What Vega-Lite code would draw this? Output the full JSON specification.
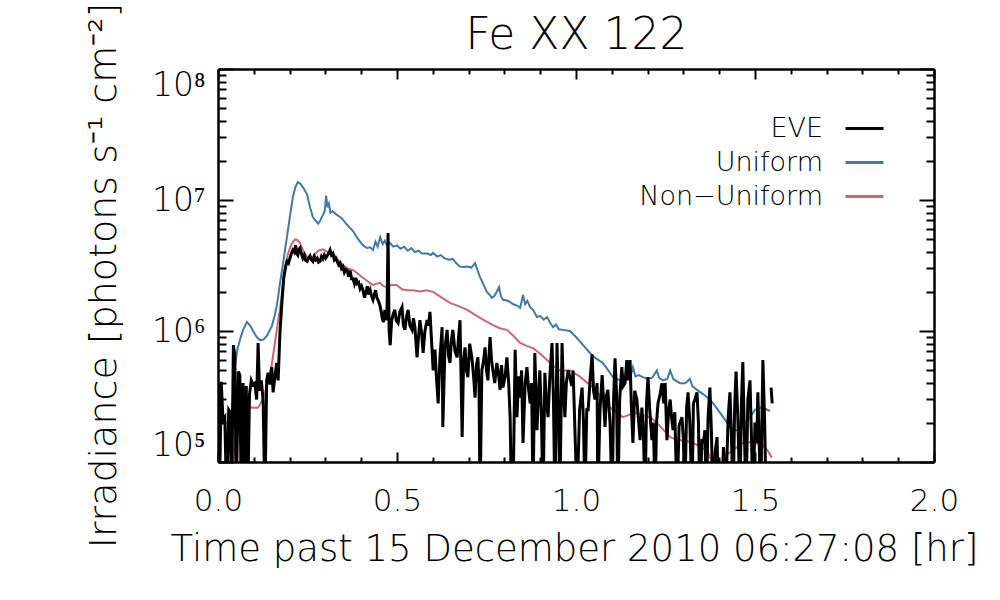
{
"$schema": "https://vega.github.io/schema/vega-lite/v6.json",
"autosize": {"type": "none"},
"padding": {"left": 218, "top": 69, "right": 66, "bottom": 138},
"width": 716,
"height": 393,
"background": "white",
"config": {
  "view": {"stroke": null},
  "font": "DejaVu Sans",
  "axis": {"domainColor": "black", "domainWidth": 2.5, "tickColor": "black", "tickWidth": 2, "labelColor": "black", "titleColor": "black", "grid": false, "labelFont": "DejaVu Sans", "titleFont": "DejaVu Sans", "labelFontWeight": 200, "titleFontWeight": 200}
},
"data": {"values": [
{"series":"Uniform","t":0.020,"irr":60000},{"series":"Uniform","t":0.025,"irr":100000},{"series":"Uniform","t":0.032,"irr":170000},{"series":"Uniform","t":0.039,"irr":250000},{"series":"Uniform","t":0.047,"irr":530000},{"series":"Uniform","t":0.054,"irr":720000},{"series":"Uniform","t":0.061,"irr":850000},{"series":"Uniform","t":0.070,"irr":1020000},{"series":"Uniform","t":0.081,"irr":1170000},{"series":"Uniform","t":0.090,"irr":1100000},{"series":"Uniform","t":0.098,"irr":1000000},{"series":"Uniform","t":0.108,"irr":900000},{"series":"Uniform","t":0.117,"irr":850000},{"series":"Uniform","t":0.127,"irr":860000},{"series":"Uniform","t":0.137,"irr":920000},{"series":"Uniform","t":0.145,"irr":1020000},{"series":"Uniform","t":0.151,"irr":1100000},{"series":"Uniform","t":0.158,"irr":1300000},{"series":"Uniform","t":0.165,"irr":1600000},{"series":"Uniform","t":0.173,"irr":2300000},{"series":"Uniform","t":0.182,"irr":3300000},{"series":"Uniform","t":0.188,"irr":4300000},{"series":"Uniform","t":0.193,"irr":5300000},{"series":"Uniform","t":0.200,"irr":7200000},{"series":"Uniform","t":0.209,"irr":10500000},{"series":"Uniform","t":0.216,"irr":12500000},{"series":"Uniform","t":0.223,"irr":13700000},{"series":"Uniform","t":0.230,"irr":13300000},{"series":"Uniform","t":0.240,"irr":12200000},{"series":"Uniform","t":0.249,"irr":11000000},{"series":"Uniform","t":0.257,"irr":8800000},{"series":"Uniform","t":0.265,"irr":7400000},{"series":"Uniform","t":0.272,"irr":7000000},{"series":"Uniform","t":0.280,"irr":6600000},{"series":"Uniform","t":0.285,"irr":6900000},{"series":"Uniform","t":0.292,"irr":7600000},{"series":"Uniform","t":0.298,"irr":8200000},{"series":"Uniform","t":0.302,"irr":10800000},{"series":"Uniform","t":0.306,"irr":8800000},{"series":"Uniform","t":0.310,"irr":9400000},{"series":"Uniform","t":0.314,"irr":8000000},{"series":"Uniform","t":0.320,"irr":8200000},{"series":"Uniform","t":0.332,"irr":7700000},{"series":"Uniform","t":0.345,"irr":7300000},{"series":"Uniform","t":0.360,"irr":6500000},{"series":"Uniform","t":0.377,"irr":5800000},{"series":"Uniform","t":0.392,"irr":5000000},{"series":"Uniform","t":0.405,"irr":4500000},{"series":"Uniform","t":0.416,"irr":4300000},{"series":"Uniform","t":0.425,"irr":4350000},{"series":"Uniform","t":0.433,"irr":4150000},{"series":"Uniform","t":0.440,"irr":4800000},{"series":"Uniform","t":0.446,"irr":4400000},{"series":"Uniform","t":0.453,"irr":5200000},{"series":"Uniform","t":0.460,"irr":4600000},{"series":"Uniform","t":0.466,"irr":4900000},{"series":"Uniform","t":0.472,"irr":4500000},{"series":"Uniform","t":0.480,"irr":4700000},{"series":"Uniform","t":0.490,"irr":4400000},{"series":"Uniform","t":0.500,"irr":4500000},{"series":"Uniform","t":0.510,"irr":4250000},{"series":"Uniform","t":0.520,"irr":4400000},{"series":"Uniform","t":0.530,"irr":4100000},{"series":"Uniform","t":0.540,"irr":4300000},{"series":"Uniform","t":0.550,"irr":4000000},{"series":"Uniform","t":0.560,"irr":4100000},{"series":"Uniform","t":0.570,"irr":3900000},{"series":"Uniform","t":0.584,"irr":3900000},{"series":"Uniform","t":0.595,"irr":3800000},{"series":"Uniform","t":0.601,"irr":3940000},{"series":"Uniform","t":0.612,"irr":3700000},{"series":"Uniform","t":0.622,"irr":3800000},{"series":"Uniform","t":0.632,"irr":3600000},{"series":"Uniform","t":0.645,"irr":3500000},{"series":"Uniform","t":0.656,"irr":3550000},{"series":"Uniform","t":0.665,"irr":3300000},{"series":"Uniform","t":0.676,"irr":3100000},{"series":"Uniform","t":0.684,"irr":3080000},{"series":"Uniform","t":0.695,"irr":3100000},{"series":"Uniform","t":0.708,"irr":3050000},{"series":"Uniform","t":0.718,"irr":3300000},{"series":"Uniform","t":0.725,"irr":2900000},{"series":"Uniform","t":0.732,"irr":2580000},{"series":"Uniform","t":0.742,"irr":2250000},{"series":"Uniform","t":0.751,"irr":1990000},{"series":"Uniform","t":0.758,"irr":1900000},{"series":"Uniform","t":0.765,"irr":1790000},{"series":"Uniform","t":0.772,"irr":1850000},{"series":"Uniform","t":0.779,"irr":2000000},{"series":"Uniform","t":0.785,"irr":2170000},{"series":"Uniform","t":0.790,"irr":1850000},{"series":"Uniform","t":0.796,"irr":1730000},{"series":"Uniform","t":0.810,"irr":1700000},{"series":"Uniform","t":0.825,"irr":1600000},{"series":"Uniform","t":0.838,"irr":1550000},{"series":"Uniform","t":0.844,"irr":1500000},{"series":"Uniform","t":0.852,"irr":1880000},{"series":"Uniform","t":0.858,"irr":1600000},{"series":"Uniform","t":0.864,"irr":1700000},{"series":"Uniform","t":0.872,"irr":1520000},{"series":"Uniform","t":0.880,"irr":1450000},{"series":"Uniform","t":0.891,"irr":1280000},{"series":"Uniform","t":0.900,"irr":1300000},{"series":"Uniform","t":0.910,"irr":1220000},{"series":"Uniform","t":0.919,"irr":1280000},{"series":"Uniform","t":0.928,"irr":1150000},{"series":"Uniform","t":0.936,"irr":1070000},{"series":"Uniform","t":0.944,"irr":1120000},{"series":"Uniform","t":0.952,"irr":1030000},{"series":"Uniform","t":0.964,"irr":1020000},{"series":"Uniform","t":0.983,"irr":1000000},{"series":"Uniform","t":1.000,"irr":900000},{"series":"Uniform","t":1.020,"irr":780000},{"series":"Uniform","t":1.039,"irr":680000},{"series":"Uniform","t":1.055,"irr":620000},{"series":"Uniform","t":1.075,"irr":570000},{"series":"Uniform","t":1.090,"irr":500000},{"series":"Uniform","t":1.103,"irr":445000},{"series":"Uniform","t":1.123,"irr":420000},{"series":"Uniform","t":1.140,"irr":450000},{"series":"Uniform","t":1.150,"irr":430000},{"series":"Uniform","t":1.159,"irr":530000},{"series":"Uniform","t":1.166,"irr":450000},{"series":"Uniform","t":1.175,"irr":460000},{"series":"Uniform","t":1.187,"irr":445000},{"series":"Uniform","t":1.200,"irr":430000},{"series":"Uniform","t":1.213,"irr":440000},{"series":"Uniform","t":1.226,"irr":500000},{"series":"Uniform","t":1.232,"irr":440000},{"series":"Uniform","t":1.243,"irr":420000},{"series":"Uniform","t":1.255,"irr":430000},{"series":"Uniform","t":1.263,"irr":500000},{"series":"Uniform","t":1.272,"irr":430000},{"series":"Uniform","t":1.290,"irr":400000},{"series":"Uniform","t":1.305,"irr":400000},{"series":"Uniform","t":1.318,"irr":430000},{"series":"Uniform","t":1.325,"irr":380000},{"series":"Uniform","t":1.338,"irr":355000},{"series":"Uniform","t":1.355,"irr":330000},{"series":"Uniform","t":1.374,"irr":300000},{"series":"Uniform","t":1.392,"irr":260000},{"series":"Uniform","t":1.411,"irr":220000},{"series":"Uniform","t":1.430,"irr":185000},{"series":"Uniform","t":1.445,"irr":175000},{"series":"Uniform","t":1.458,"irr":175000},{"series":"Uniform","t":1.470,"irr":195000},{"series":"Uniform","t":1.486,"irr":220000},{"series":"Uniform","t":1.500,"irr":250000},{"series":"Uniform","t":1.514,"irr":260000},{"series":"Uniform","t":1.528,"irr":255000},{"series":"Uniform","t":1.542,"irr":245000},
{"series":"Non-Uniform","t":0.039,"irr":80000},{"series":"Non-Uniform","t":0.046,"irr":130000},{"series":"Non-Uniform","t":0.053,"irr":185000},{"series":"Non-Uniform","t":0.060,"irr":230000},{"series":"Non-Uniform","t":0.067,"irr":260000},{"series":"Non-Uniform","t":0.080,"irr":270000},{"series":"Non-Uniform","t":0.095,"irr":260000},{"series":"Non-Uniform","t":0.112,"irr":260000},{"series":"Non-Uniform","t":0.122,"irr":290000},{"series":"Non-Uniform","t":0.131,"irr":340000},{"series":"Non-Uniform","t":0.140,"irr":420000},{"series":"Non-Uniform","t":0.150,"irr":550000},{"series":"Non-Uniform","t":0.159,"irr":810000},{"series":"Non-Uniform","t":0.168,"irr":1200000},{"series":"Non-Uniform","t":0.175,"irr":1600000},{"series":"Non-Uniform","t":0.182,"irr":2400000},{"series":"Non-Uniform","t":0.189,"irr":3200000},{"series":"Non-Uniform","t":0.196,"irr":3940000},{"series":"Non-Uniform","t":0.205,"irr":4600000},{"series":"Non-Uniform","t":0.215,"irr":5000000},{"series":"Non-Uniform","t":0.222,"irr":4950000},{"series":"Non-Uniform","t":0.229,"irr":4700000},{"series":"Non-Uniform","t":0.240,"irr":4000000},{"series":"Non-Uniform","t":0.249,"irr":3670000},{"series":"Non-Uniform","t":0.258,"irr":3650000},{"series":"Non-Uniform","t":0.265,"irr":3700000},{"series":"Non-Uniform","t":0.280,"irr":4100000},{"series":"Non-Uniform","t":0.293,"irr":4200000},{"series":"Non-Uniform","t":0.307,"irr":4000000},{"series":"Non-Uniform","t":0.321,"irr":3940000},{"series":"Non-Uniform","t":0.335,"irr":3500000},{"series":"Non-Uniform","t":0.349,"irr":3190000},{"series":"Non-Uniform","t":0.363,"irr":3000000},{"series":"Non-Uniform","t":0.377,"irr":2920000},{"series":"Non-Uniform","t":0.390,"irr":2750000},{"series":"Non-Uniform","t":0.402,"irr":2580000},{"series":"Non-Uniform","t":0.418,"irr":2400000},{"series":"Non-Uniform","t":0.433,"irr":2240000},{"series":"Non-Uniform","t":0.443,"irr":2300000},{"series":"Non-Uniform","t":0.453,"irr":2320000},{"series":"Non-Uniform","t":0.462,"irr":2200000},{"series":"Non-Uniform","t":0.472,"irr":2170000},{"series":"Non-Uniform","t":0.486,"irr":2250000},{"series":"Non-Uniform","t":0.500,"irr":2240000},{"series":"Non-Uniform","t":0.514,"irr":2080000},{"series":"Non-Uniform","t":0.528,"irr":2050000},{"series":"Non-Uniform","t":0.545,"irr":2050000},{"series":"Non-Uniform","t":0.564,"irr":2000000},{"series":"Non-Uniform","t":0.582,"irr":2050000},{"series":"Non-Uniform","t":0.601,"irr":1990000},{"series":"Non-Uniform","t":0.625,"irr":1800000},{"series":"Non-Uniform","t":0.648,"irr":1640000},{"series":"Non-Uniform","t":0.672,"irr":1550000},{"series":"Non-Uniform","t":0.696,"irr":1450000},{"series":"Non-Uniform","t":0.714,"irr":1350000},{"series":"Non-Uniform","t":0.732,"irr":1260000},{"series":"Non-Uniform","t":0.750,"irr":1180000},{"series":"Non-Uniform","t":0.768,"irr":1110000},{"series":"Non-Uniform","t":0.787,"irr":1050000},{"series":"Non-Uniform","t":0.807,"irr":1020000},{"series":"Non-Uniform","t":0.825,"irr":920000},{"series":"Non-Uniform","t":0.844,"irr":810000},{"series":"Non-Uniform","t":0.862,"irr":770000},{"series":"Non-Uniform","t":0.880,"irr":740000},{"series":"Non-Uniform","t":0.900,"irr":670000},{"series":"Non-Uniform","t":0.919,"irr":600000},{"series":"Non-Uniform","t":0.937,"irr":540000},{"series":"Non-Uniform","t":0.955,"irr":500000},{"series":"Non-Uniform","t":0.983,"irr":500000},{"series":"Non-Uniform","t":1.010,"irr":450000},{"series":"Non-Uniform","t":1.047,"irr":370000},{"series":"Non-Uniform","t":1.075,"irr":300000},{"series":"Non-Uniform","t":1.103,"irr":250000},{"series":"Non-Uniform","t":1.131,"irr":220000},{"series":"Non-Uniform","t":1.150,"irr":230000},{"series":"Non-Uniform","t":1.170,"irr":237000},{"series":"Non-Uniform","t":1.190,"irr":225000},{"series":"Non-Uniform","t":1.207,"irr":220000},{"series":"Non-Uniform","t":1.225,"irr":200000},{"series":"Non-Uniform","t":1.245,"irr":175000},{"series":"Non-Uniform","t":1.263,"irr":155000},{"series":"Non-Uniform","t":1.285,"irr":147000},{"series":"Non-Uniform","t":1.305,"irr":145000},{"series":"Non-Uniform","t":1.327,"irr":140000},{"series":"Non-Uniform","t":1.350,"irr":130000},{"series":"Non-Uniform","t":1.368,"irr":120000},{"series":"Non-Uniform","t":1.383,"irr":95000},{"series":"Non-Uniform","t":1.402,"irr":95000},{"series":"Non-Uniform","t":1.422,"irr":114000},{"series":"Non-Uniform","t":1.450,"irr":130000},{"series":"Non-Uniform","t":1.466,"irr":140000},{"series":"Non-Uniform","t":1.486,"irr":142000},{"series":"Non-Uniform","t":1.506,"irr":138000},{"series":"Non-Uniform","t":1.520,"irr":135000},{"series":"Non-Uniform","t":1.534,"irr":124000},{"series":"Non-Uniform","t":1.547,"irr":108000},
{"series":"EVE","t":0.000,"irr":400000},{"series":"EVE","t":0.004,"irr":50000},{"series":"EVE","t":0.009,"irr":410000},{"series":"EVE","t":0.014,"irr":210000},{"series":"EVE","t":0.019,"irr":220000},{"series":"EVE","t":0.024,"irr":50000},{"series":"EVE","t":0.030,"irr":250000},{"series":"EVE","t":0.034,"irr":240000},{"series":"EVE","t":0.038,"irr":50000},{"series":"EVE","t":0.043,"irr":780000},{"series":"EVE","t":0.047,"irr":650000},{"series":"EVE","t":0.051,"irr":50000},{"series":"EVE","t":0.057,"irr":490000},{"series":"EVE","t":0.061,"irr":460000},{"series":"EVE","t":0.065,"irr":50000},{"series":"EVE","t":0.070,"irr":400000},{"series":"EVE","t":0.074,"irr":50000},{"series":"EVE","t":0.079,"irr":380000},{"series":"EVE","t":0.083,"irr":50000},{"series":"EVE","t":0.088,"irr":330000},{"series":"EVE","t":0.093,"irr":420000},{"series":"EVE","t":0.098,"irr":390000},{"series":"EVE","t":0.103,"irr":400000},{"series":"EVE","t":0.108,"irr":300000},{"series":"EVE","t":0.112,"irr":810000},{"series":"EVE","t":0.116,"irr":350000},{"series":"EVE","t":0.121,"irr":420000},{"series":"EVE","t":0.126,"irr":300000},{"series":"EVE","t":0.131,"irr":50000},{"series":"EVE","t":0.136,"irr":420000},{"series":"EVE","t":0.140,"irr":480000},{"series":"EVE","t":0.145,"irr":390000},{"series":"EVE","t":0.150,"irr":530000},{"series":"EVE","t":0.154,"irr":340000},{"series":"EVE","t":0.159,"irr":450000},{"series":"EVE","t":0.164,"irr":570000},{"series":"EVE","t":0.168,"irr":420000},{"series":"EVE","t":0.173,"irr":970000},{"series":"EVE","t":0.179,"irr":1730000},{"series":"EVE","t":0.184,"irr":2600000},{"series":"EVE","t":0.189,"irr":3100000},{"series":"EVE","t":0.193,"irr":3400000},{"series":"EVE","t":0.197,"irr":3300000},{"series":"EVE","t":0.201,"irr":3600000},{"series":"EVE","t":0.205,"irr":3900000},{"series":"EVE","t":0.209,"irr":4150000},{"series":"EVE","t":0.213,"irr":4000000},{"series":"EVE","t":0.217,"irr":4500000},{"series":"EVE","t":0.220,"irr":3900000},{"series":"EVE","t":0.223,"irr":3800000},{"series":"EVE","t":0.226,"irr":4200000},{"series":"EVE","t":0.229,"irr":4300000},{"series":"EVE","t":0.233,"irr":3900000},{"series":"EVE","t":0.237,"irr":3600000},{"series":"EVE","t":0.241,"irr":3800000},{"series":"EVE","t":0.245,"irr":3450000},{"series":"EVE","t":0.249,"irr":3400000},{"series":"EVE","t":0.253,"irr":3600000},{"series":"EVE","t":0.257,"irr":3750000},{"series":"EVE","t":0.261,"irr":3500000},{"series":"EVE","t":0.265,"irr":3400000},{"series":"EVE","t":0.269,"irr":3700000},{"series":"EVE","t":0.273,"irr":3500000},{"series":"EVE","t":0.277,"irr":3600000},{"series":"EVE","t":0.281,"irr":3350000},{"series":"EVE","t":0.285,"irr":3400000},{"series":"EVE","t":0.289,"irr":3700000},{"series":"EVE","t":0.293,"irr":3550000},{"series":"EVE","t":0.297,"irr":3800000},{"series":"EVE","t":0.301,"irr":3600000},{"series":"EVE","t":0.305,"irr":3750000},{"series":"EVE","t":0.309,"irr":3900000},{"series":"EVE","t":0.313,"irr":4150000},{"series":"EVE","t":0.317,"irr":3800000},{"series":"EVE","t":0.321,"irr":3900000},{"series":"EVE","t":0.325,"irr":3500000},{"series":"EVE","t":0.329,"irr":3600000},{"series":"EVE","t":0.333,"irr":3400000},{"series":"EVE","t":0.337,"irr":3200000},{"series":"EVE","t":0.341,"irr":3300000},{"series":"EVE","t":0.345,"irr":3000000},{"series":"EVE","t":0.349,"irr":3100000},{"series":"EVE","t":0.353,"irr":2800000},{"series":"EVE","t":0.357,"irr":2950000},{"series":"EVE","t":0.361,"irr":2900000},{"series":"EVE","t":0.365,"irr":2600000},{"series":"EVE","t":0.369,"irr":2900000},{"series":"EVE","t":0.373,"irr":2500000},{"series":"EVE","t":0.377,"irr":2500000},{"series":"EVE","t":0.381,"irr":2300000},{"series":"EVE","t":0.385,"irr":2550000},{"series":"EVE","t":0.389,"irr":2300000},{"series":"EVE","t":0.393,"irr":2350000},{"series":"EVE","t":0.397,"irr":2100000},{"series":"EVE","t":0.401,"irr":2200000},{"series":"EVE","t":0.405,"irr":2050000},{"series":"EVE","t":0.409,"irr":1800000},{"series":"EVE","t":0.413,"irr":1950000},{"series":"EVE","t":0.417,"irr":2200000},{"series":"EVE","t":0.421,"irr":1900000},{"series":"EVE","t":0.425,"irr":2050000},{"series":"EVE","t":0.429,"irr":1850000},{"series":"EVE","t":0.433,"irr":1730000},{"series":"EVE","t":0.437,"irr":1900000},{"series":"EVE","t":0.440,"irr":2050000},{"series":"EVE","t":0.444,"irr":1790000},{"series":"EVE","t":0.448,"irr":1700000},{"series":"EVE","t":0.452,"irr":1580000},{"series":"EVE","t":0.456,"irr":1400000},{"series":"EVE","t":0.459,"irr":1250000},{"series":"EVE","t":0.462,"irr":1170000},{"series":"EVE","t":0.466,"irr":1450000},{"series":"EVE","t":0.469,"irr":1210000},{"series":"EVE","t":0.472,"irr":1300000},{"series":"EVE","t":0.475,"irr":5600000},{"series":"EVE","t":0.478,"irr":1000000},{"series":"EVE","t":0.481,"irr":780000},{"series":"EVE","t":0.485,"irr":1200000},{"series":"EVE","t":0.489,"irr":1330000},{"series":"EVE","t":0.494,"irr":1450000},{"series":"EVE","t":0.498,"irr":1200000},{"series":"EVE","t":0.503,"irr":1150000},{"series":"EVE","t":0.508,"irr":1400000},{"series":"EVE","t":0.514,"irr":1520000},{"series":"EVE","t":0.518,"irr":1100000},{"series":"EVE","t":0.522,"irr":1020000},{"series":"EVE","t":0.527,"irr":1300000},{"series":"EVE","t":0.531,"irr":1450000},{"series":"EVE","t":0.536,"irr":1100000},{"series":"EVE","t":0.542,"irr":1020000},{"series":"EVE","t":0.546,"irr":1250000},{"series":"EVE","t":0.550,"irr":1070000},{"series":"EVE","t":0.556,"irr":630000},{"series":"EVE","t":0.560,"irr":900000},{"series":"EVE","t":0.564,"irr":1210000},{"series":"EVE","t":0.569,"irr":950000},{"series":"EVE","t":0.573,"irr":680000},{"series":"EVE","t":0.578,"irr":1000000},{"series":"EVE","t":0.584,"irr":1210000},{"series":"EVE","t":0.588,"irr":1100000},{"series":"EVE","t":0.592,"irr":1400000},{"series":"EVE","t":0.597,"irr":800000},{"series":"EVE","t":0.601,"irr":500000},{"series":"EVE","t":0.606,"irr":720000},{"series":"EVE","t":0.610,"irr":450000},{"series":"EVE","t":0.615,"irr":280000},{"series":"EVE","t":0.620,"irr":630000},{"series":"EVE","t":0.626,"irr":1070000},{"series":"EVE","t":0.628,"irr":185000},{"series":"EVE","t":0.634,"irr":750000},{"series":"EVE","t":0.640,"irr":1020000},{"series":"EVE","t":0.644,"irr":650000},{"series":"EVE","t":0.648,"irr":570000},{"series":"EVE","t":0.652,"irr":850000},{"series":"EVE","t":0.656,"irr":1020000},{"series":"EVE","t":0.662,"irr":700000},{"series":"EVE","t":0.668,"irr":630000},{"series":"EVE","t":0.672,"irr":900000},{"series":"EVE","t":0.676,"irr":1210000},{"series":"EVE","t":0.682,"irr":155000},{"series":"EVE","t":0.686,"irr":600000},{"series":"EVE","t":0.690,"irr":750000},{"series":"EVE","t":0.694,"irr":500000},{"series":"EVE","t":0.698,"irr":445000},{"series":"EVE","t":0.703,"irr":800000},{"series":"EVE","t":0.709,"irr":630000},{"series":"EVE","t":0.714,"irr":450000},{"series":"EVE","t":0.718,"irr":310000},{"series":"EVE","t":0.722,"irr":550000},{"series":"EVE","t":0.726,"irr":630000},{"series":"EVE","t":0.729,"irr":400000},{"series":"EVE","t":0.732,"irr":50000},{"series":"EVE","t":0.737,"irr":500000},{"series":"EVE","t":0.742,"irr":600000},{"series":"EVE","t":0.746,"irr":750000},{"series":"EVE","t":0.750,"irr":500000},{"series":"EVE","t":0.754,"irr":420000},{"series":"EVE","t":0.757,"irr":650000},{"series":"EVE","t":0.760,"irr":900000},{"series":"EVE","t":0.764,"irr":600000},{"series":"EVE","t":0.768,"irr":500000},{"series":"EVE","t":0.773,"irr":400000},{"series":"EVE","t":0.779,"irr":570000},{"series":"EVE","t":0.784,"irr":460000},{"series":"EVE","t":0.788,"irr":355000},{"series":"EVE","t":0.792,"irr":550000},{"series":"EVE","t":0.796,"irr":370000},{"series":"EVE","t":0.802,"irr":450000},{"series":"EVE","t":0.807,"irr":630000},{"series":"EVE","t":0.812,"irr":400000},{"series":"EVE","t":0.816,"irr":220000},{"series":"EVE","t":0.820,"irr":50000},{"series":"EVE","t":0.824,"irr":50000},{"series":"EVE","t":0.830,"irr":720000},{"series":"EVE","t":0.835,"irr":220000},{"series":"EVE","t":0.840,"irr":450000},{"series":"EVE","t":0.844,"irr":310000},{"series":"EVE","t":0.848,"irr":500000},{"series":"EVE","t":0.852,"irr":140000},{"series":"EVE","t":0.858,"irr":400000},{"series":"EVE","t":0.863,"irr":530000},{"series":"EVE","t":0.868,"irr":350000},{"series":"EVE","t":0.872,"irr":280000},{"series":"EVE","t":0.876,"irr":400000},{"series":"EVE","t":0.880,"irr":50000},{"series":"EVE","t":0.885,"irr":680000},{"series":"EVE","t":0.888,"irr":350000},{"series":"EVE","t":0.891,"irr":175000},{"series":"EVE","t":0.895,"irr":320000},{"series":"EVE","t":0.899,"irr":500000},{"series":"EVE","t":0.903,"irr":250000},{"series":"EVE","t":0.908,"irr":50000},{"series":"EVE","t":0.913,"irr":480000},{"series":"EVE","t":0.917,"irr":300000},{"series":"EVE","t":0.922,"irr":220000},{"series":"EVE","t":0.927,"irr":450000},{"series":"EVE","t":0.933,"irr":810000},{"series":"EVE","t":0.937,"irr":300000},{"series":"EVE","t":0.941,"irr":50000},{"series":"EVE","t":0.947,"irr":810000},{"series":"EVE","t":0.951,"irr":250000},{"series":"EVE","t":0.955,"irr":50000},{"series":"EVE","t":0.961,"irr":810000},{"series":"EVE","t":0.965,"irr":350000},{"series":"EVE","t":0.969,"irr":220000},{"series":"EVE","t":0.973,"irr":400000},{"series":"EVE","t":0.978,"irr":500000},{"series":"EVE","t":0.983,"irr":445000},{"series":"EVE","t":0.988,"irr":380000},{"series":"EVE","t":0.992,"irr":500000},{"series":"EVE","t":0.997,"irr":175000},{"series":"EVE","t":1.003,"irr":50000},{"series":"EVE","t":1.010,"irr":250000},{"series":"EVE","t":1.017,"irr":370000},{"series":"EVE","t":1.021,"irr":200000},{"series":"EVE","t":1.025,"irr":50000},{"series":"EVE","t":1.030,"irr":250000},{"series":"EVE","t":1.034,"irr":250000},{"series":"EVE","t":1.040,"irr":450000},{"series":"EVE","t":1.045,"irr":660000},{"series":"EVE","t":1.049,"irr":350000},{"series":"EVE","t":1.053,"irr":300000},{"series":"EVE","t":1.059,"irr":400000},{"series":"EVE","t":1.061,"irr":50000},{"series":"EVE","t":1.067,"irr":250000},{"series":"EVE","t":1.073,"irr":460000},{"series":"EVE","t":1.077,"irr":300000},{"series":"EVE","t":1.081,"irr":185000},{"series":"EVE","t":1.085,"irr":320000},{"series":"EVE","t":1.089,"irr":355000},{"series":"EVE","t":1.095,"irr":200000},{"series":"EVE","t":1.101,"irr":50000},{"series":"EVE","t":1.105,"irr":300000},{"series":"EVE","t":1.109,"irr":620000},{"series":"EVE","t":1.113,"irr":350000},{"series":"EVE","t":1.117,"irr":50000},{"series":"EVE","t":1.122,"irr":300000},{"series":"EVE","t":1.128,"irr":530000},{"series":"EVE","t":1.132,"irr":380000},{"series":"EVE","t":1.137,"irr":400000},{"series":"EVE","t":1.142,"irr":600000},{"series":"EVE","t":1.146,"irr":420000},{"series":"EVE","t":1.151,"irr":600000},{"series":"EVE","t":1.155,"irr":250000},{"series":"EVE","t":1.159,"irr":140000},{"series":"EVE","t":1.164,"irr":350000},{"series":"EVE","t":1.170,"irr":300000},{"series":"EVE","t":1.174,"irr":220000},{"series":"EVE","t":1.179,"irr":147000},{"series":"EVE","t":1.184,"irr":260000},{"series":"EVE","t":1.188,"irr":180000},{"series":"EVE","t":1.193,"irr":50000},{"series":"EVE","t":1.197,"irr":280000},{"series":"EVE","t":1.201,"irr":445000},{"series":"EVE","t":1.206,"irr":250000},{"series":"EVE","t":1.212,"irr":147000},{"series":"EVE","t":1.216,"irr":200000},{"series":"EVE","t":1.221,"irr":50000},{"series":"EVE","t":1.225,"irr":200000},{"series":"EVE","t":1.229,"irr":280000},{"series":"EVE","t":1.235,"irr":330000},{"series":"EVE","t":1.240,"irr":400000},{"series":"EVE","t":1.245,"irr":280000},{"series":"EVE","t":1.249,"irr":400000},{"series":"EVE","t":1.254,"irr":147000},{"series":"EVE","t":1.259,"irr":250000},{"series":"EVE","t":1.263,"irr":300000},{"series":"EVE","t":1.267,"irr":220000},{"series":"EVE","t":1.271,"irr":175000},{"series":"EVE","t":1.276,"irr":240000},{"series":"EVE","t":1.282,"irr":50000},{"series":"EVE","t":1.288,"irr":190000},{"series":"EVE","t":1.296,"irr":220000},{"series":"EVE","t":1.300,"irr":150000},{"series":"EVE","t":1.304,"irr":50000},{"series":"EVE","t":1.309,"irr":260000},{"series":"EVE","t":1.313,"irr":340000},{"series":"EVE","t":1.318,"irr":200000},{"series":"EVE","t":1.324,"irr":50000},{"series":"EVE","t":1.328,"irr":280000},{"series":"EVE","t":1.332,"irr":300000},{"series":"EVE","t":1.338,"irr":340000},{"series":"EVE","t":1.342,"irr":200000},{"series":"EVE","t":1.346,"irr":50000},{"series":"EVE","t":1.352,"irr":150000},{"series":"EVE","t":1.356,"irr":140000},{"series":"EVE","t":1.360,"irr":175000},{"series":"EVE","t":1.364,"irr":50000},{"series":"EVE","t":1.369,"irr":220000},{"series":"EVE","t":1.374,"irr":370000},{"series":"EVE","t":1.378,"irr":180000},{"series":"EVE","t":1.383,"irr":50000},{"series":"EVE","t":1.389,"irr":120000},{"series":"EVE","t":1.394,"irr":155000},{"series":"EVE","t":1.398,"irr":50000},{"series":"EVE","t":1.406,"irr":50000},{"series":"EVE","t":1.412,"irr":130000},{"series":"EVE","t":1.418,"irr":50000},{"series":"EVE","t":1.425,"irr":220000},{"series":"EVE","t":1.430,"irr":340000},{"series":"EVE","t":1.434,"irr":160000},{"series":"EVE","t":1.439,"irr":50000},{"series":"EVE","t":1.443,"irr":250000},{"series":"EVE","t":1.447,"irr":490000},{"series":"EVE","t":1.452,"irr":220000},{"series":"EVE","t":1.458,"irr":50000},{"series":"EVE","t":1.462,"irr":280000},{"series":"EVE","t":1.466,"irr":580000},{"series":"EVE","t":1.470,"irr":180000},{"series":"EVE","t":1.475,"irr":50000},{"series":"EVE","t":1.480,"irr":300000},{"series":"EVE","t":1.486,"irr":420000},{"series":"EVE","t":1.490,"irr":160000},{"series":"EVE","t":1.494,"irr":50000},{"series":"EVE","t":1.500,"irr":200000},{"series":"EVE","t":1.505,"irr":140000},{"series":"EVE","t":1.508,"irr":340000},{"series":"EVE","t":1.512,"irr":130000},{"series":"EVE","t":1.516,"irr":50000},{"series":"EVE","t":1.522,"irr":600000},{"series":"EVE","t":1.527,"irr":200000},{"series":"EVE","t":1.531,"irr":50000},{"series":"EVE","t":1.538,"irr":null},{"series":"EVE","t":1.545,"irr":370000},{"series":"EVE","t":1.548,"irr":280000}
]},
"resolve": {"axis": {"x": "independent", "y": "independent"}},
"layer": [
  {
    "transform": [{"filter": "datum.series == 'Uniform'"}],
    "mark": {"type": "line", "clip": true, "strokeWidth": 2},
    "encoding": {
      "x": {"field": "t", "type": "quantitative", "scale": {"domain": [0, 2], "nice": false, "zero": false},
        "axis": {"orient": "bottom", "values": [0,0.1,0.2,0.3,0.4,0.5,0.6,0.7,0.8,0.9,1,1.1,1.2,1.3,1.4,1.5,1.6,1.7,1.8,1.9,2],
          "tickSize": {"condition": {"test": "indexof([0,0.5,1,1.5,2], datum.value) >= 0", "value": -10}, "value": -5},
          "labelExpr": "indexof([0,0.5,1,1.5,2], datum.value) >= 0 ? format(datum.value, '.1f') : ''",
          "labelFontSize": 31, "labelBaseline": "alphabetic", "labelPadding": 58, "labelFlush": false, "labelOverlap": false,
          "title": "Time past 15 December 2010 06:27:08 [hr]", "titleFontSize": 37, "titleX": 356, "titleY": 98, "titleBaseline": "alphabetic", "titleAlign": "center"}},
      "y": {"field": "irr", "type": "quantitative", "scale": {"type": "log", "domain": [100000, 100000000], "nice": false},
        "axis": {"orient": "left", "values": [100000,200000,300000,400000,500000,600000,700000,800000,900000,1000000,2000000,3000000,4000000,5000000,6000000,7000000,8000000,9000000,10000000,20000000,30000000,40000000,50000000,60000000,70000000,80000000,90000000,100000000],
          "tickSize": {"condition": {"test": "indexof([100000,1000000,10000000,100000000], datum.value) >= 0", "value": -15}, "value": -8},
          "labelExpr": "datum.value == 100000 ? '10⁵' : datum.value == 1000000 ? '10⁶' : datum.value == 10000000 ? '10⁷' : datum.value == 100000000 ? '10⁸' : ''",
          "labelFontSize": 33, "labelPadding": 28, "labelFlush": true, "labelOverlap": false,
          "title": "Irradiance [photons s⁻¹ cm⁻²]", "titleFontSize": 38, "titleAngle": 270, "titleX": -103, "titleY": 206, "titleAlign": "center", "titleBaseline": "alphabetic"}},
      "color": {"field": "series", "type": "nominal", "scale": {"domain": ["EVE", "Uniform", "Non-Uniform"], "range": ["#000000", "#4477AA", "#CC6677"]},
        "legend": {"orient": "none", "legendX": 626, "legendY": 39, "title": null, "labelAlign": "right", "labelOffset": -62, "labelFontSize": 27, "labelFont": "DejaVu Sans", "labelFontWeight": 200, "labelColor": "black", "labelLimit": 400, "labelExpr": "replace(datum.label, '-', '−')", "symbolType": "stroke", "symbolSize": 1444, "symbolStrokeWidth": 3, "rowPadding": 0, "padding": 0, "direction": "vertical"}}
    }
  },
  {
    "transform": [{"filter": "datum.series == 'Non-Uniform'"}],
    "mark": {"type": "line", "clip": true, "strokeWidth": 2},
    "encoding": {
      "x": {"field": "t", "type": "quantitative", "scale": {"domain": [0, 2], "nice": false, "zero": false}, "axis": null},
      "y": {"field": "irr", "type": "quantitative", "scale": {"type": "log", "domain": [100000, 100000000], "nice": false}, "axis": null},
      "color": {"field": "series", "type": "nominal", "legend": null}
    }
  },
  {
    "transform": [{"filter": "datum.series == 'EVE'"}],
    "mark": {"type": "line", "clip": true, "strokeWidth": 3, "invalid": "break-paths-filter-domains"},
    "encoding": {
      "x": {"field": "t", "type": "quantitative", "scale": {"domain": [0, 2], "nice": false, "zero": false},
        "axis": {"orient": "top", "values": [0,0.1,0.2,0.3,0.4,0.5,0.6,0.7,0.8,0.9,1,1.1,1.2,1.3,1.4,1.5,1.6,1.7,1.8,1.9,2],
          "tickSize": {"condition": {"test": "indexof([0,0.5,1,1.5,2], datum.value) >= 0", "value": -10}, "value": -5},
          "labels": false,
          "title": "Fe XX 122", "titleFontSize": 44, "titleX": 358, "titleY": -21, "titleBaseline": "alphabetic", "titleAlign": "center", "titleAngle": 0}},
      "y": {"field": "irr", "type": "quantitative", "scale": {"type": "log", "domain": [100000, 100000000], "nice": false},
        "axis": {"orient": "right", "values": [100000,200000,300000,400000,500000,600000,700000,800000,900000,1000000,2000000,3000000,4000000,5000000,6000000,7000000,8000000,9000000,10000000,20000000,30000000,40000000,50000000,60000000,70000000,80000000,90000000,100000000],
          "tickSize": {"condition": {"test": "indexof([100000,1000000,10000000,100000000], datum.value) >= 0", "value": -15}, "value": -8},
          "labels": false, "title": null}},
      "color": {"field": "series", "type": "nominal", "legend": null}
    }
  }
]
}
